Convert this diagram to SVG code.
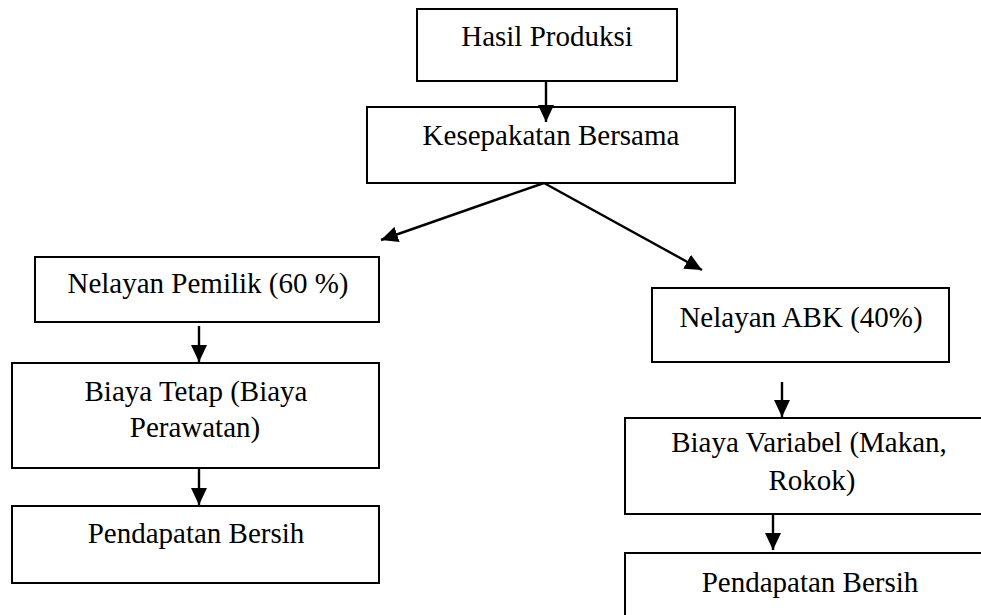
<svg xmlns="http://www.w3.org/2000/svg" width="981" height="615" viewBox="0 0 981 615">
<defs>
<marker id="ah" markerUnits="userSpaceOnUse" markerWidth="17" markerHeight="16" refX="17" refY="8" orient="auto">
<path d="M0,0 L17,8 L0,16 Z" fill="#000"/>
</marker>
<style>
.box{fill:#fff;stroke:#000;stroke-width:2}
.t{font-family:"Liberation Serif","Times New Roman",serif;font-size:29px;fill:#000;text-anchor:middle}
.c{stroke:#000;stroke-width:2.4;fill:none;marker-end:url(#ah)}
</style>
</defs>
<rect width="981" height="615" fill="#fff"/>
<g id="n1"><rect class="box" x="417" y="9" width="260" height="72"/><text class="t" x="547" y="46">Hasil Produksi</text></g>
<g id="n2"><rect class="box" x="367" y="107" width="368" height="76"/><text class="t" x="551" y="145">Kesepakatan Bersama</text></g>
<g id="n3"><rect class="box" x="35" y="257" width="344" height="65"/><text class="t" x="208" y="293">Nelayan Pemilik (60 %)</text></g>
<g id="n4"><rect class="box" x="12" y="363" width="367" height="105"/><text class="t" x="196" y="401">Biaya Tetap (Biaya</text><text class="t" x="195" y="437">Perawatan)</text></g>
<g id="n5"><rect class="box" x="12" y="506" width="367" height="77"/><text class="t" x="196" y="543">Pendapatan Bersih</text></g>
<g id="n6"><rect class="box" x="652" y="288" width="297" height="74"/><text class="t" x="801" y="327">Nelayan ABK (40%)</text></g>
<g id="n7"><rect class="box" x="625" y="418" width="380" height="96"/><text class="t" x="809" y="452">Biaya Variabel (Makan,</text><text class="t" x="812" y="490">Rokok)</text></g>
<g id="n8"><rect class="box" x="625" y="553" width="380" height="80"/><text class="t" x="810" y="592">Pendapatan Bersih</text></g>
<g id="connectors">
<line class="c" x1="546" y1="81" x2="546" y2="122"/>
<line class="c" x1="544" y1="183" x2="381" y2="240"/>
<line class="c" x1="544" y1="183" x2="702" y2="270"/>
<line class="c" x1="199" y1="326" x2="199" y2="362"/>
<line class="c" x1="199" y1="468" x2="199" y2="505"/>
<line class="c" x1="782" y1="382" x2="782" y2="417"/>
<line class="c" x1="773" y1="514" x2="773" y2="550"/>
</g>
</svg>
